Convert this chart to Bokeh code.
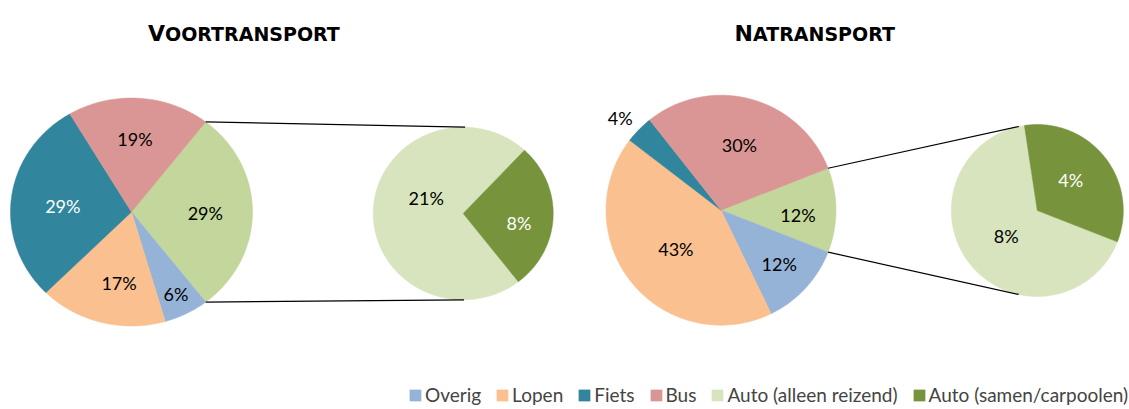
import numpy as np
from bokeh.plotting import figure
from bokeh.models import Range1d, Legend, LegendItem
from bokeh.embed import file_html
from bokeh.resources import INLINE
from bokeh.core.properties import value

# ---------------- data ----------------
categories = ["Overig", "Lopen", "Fiets", "Bus", "Auto (alleen reizend)", "Auto (samen/carpoolen)"]
colors = ["#95B3D7", "#FAC090", "#31859C", "#D99694", "#D7E4BD", "#77933C"]
combined_color = "#C3D69B"

titles = ["Voortransport", "Natransport"]

# primary pie values (%): Overig, Lopen, Fiets, Bus
voor_main = [6, 17, 29, 19]
na_main = [12, 43, 4, 30]
# secondary pie values (%): Auto alleen, Auto samen
voor_auto = [21, 8]
na_auto = [8, 4]

# ---------------- layout (screen px) ----------------
W, H = 1129, 409
charts = [
    dict(title=titles[0], main=voor_main, auto=voor_auto,
         pc=(131.0, 211.5), prx=121.0, pry=114.0,
         sc=(462.7, 213.0), srx=90.0, sry=86.3,
         title_split=164.5, title_y=33.3,
         main_frac=[0.81, 0.63, 0.57, 0.64], main_off=[0, 5, 1.8, 1],
         comb_frac=0.61, comb_off=-1.0,
         sec_frac=[0.45, 0.63], sec_off=[-21.5, -8.0]),
    dict(title=titles[1], main=na_main, auto=na_auto,
         pc=(720.5, 209.7), prx=115.0, pry=115.0,
         sc=(1036.8, 210.0), srx=86.0, sry=86.0,
         title_split=752.5, title_y=33.3,
         main_frac=[0.69, 0.52, 1.19, 0.585], main_off=[0, 1.8, 2.0, -0.7],
         comb_frac=0.67, comb_off=-3.4,
         sec_frac=[0.47, 0.53], sec_off=[1.2, 4.2]),
]

p = figure(width=W, height=H, output_backend="svg", toolbar_location=None,
           x_range=Range1d(0, W), y_range=Range1d(H, 0),
           x_axis_location=None, y_axis_location=None, min_border=0)
p.grid.visible = False
p.outline_line_color = None
p.background_fill_color = "white"


def wedge(cx, cy, rx, ry, a0, a1):
    n = max(8, int(abs(a1 - a0)))
    t = np.radians(np.linspace(a0, a1, n))
    xs = np.concatenate([[cx], cx + rx * np.cos(t)])
    ys = np.concatenate([[cy], cy - ry * np.sin(t)])
    return list(xs), list(ys)


def ell_pt(cx, cy, rx, ry, a, f=1.0):
    t = np.radians(a)
    return cx + f * rx * np.cos(t), cy - f * ry * np.sin(t)


cat_xs = {c: [] for c in categories}
cat_ys = {c: [] for c in categories}
comb_xs, comb_ys = [], []
lab_x, lab_y, lab_t, lab_c = [], [], [], []
seg = dict(x0=[], y0=[], x1=[], y1=[])

for ch in charts:
    main, auto = ch["main"], ch["auto"]
    total = float(sum(main) + sum(auto))
    half = 180.0 * sum(auto) / total
    cx, cy = ch["pc"]
    rx, ry = ch["prx"], ch["pry"]
    a = -half
    for i, v in enumerate(main):
        span = 360.0 * v / total
        xs, ys = wedge(cx, cy, rx, ry, a, a - span)
        cat_xs[categories[i]].append(xs)
        cat_ys[categories[i]].append(ys)
        mid = a - span / 2 + ch["main_off"][i]
        lx, ly = ell_pt(cx, cy, rx, ry, mid, ch["main_frac"][i])
        lab_x.append(lx); lab_y.append(ly); lab_t.append(f"{v}%")
        white = (categories[i] == "Fiets") and ch["main_frac"][i] < 1
        lab_c.append("white" if white else "black")
        a -= span
    # combined auto slice
    xs, ys = wedge(cx, cy, rx, ry, -half, half)
    comb_xs.append(xs); comb_ys.append(ys)
    lx, ly = ell_pt(cx, cy, rx, ry, ch["comb_off"], ch["comb_frac"])
    lab_x.append(lx); lab_y.append(ly); lab_t.append(f"{sum(auto)}%"); lab_c.append("black")

    # secondary pie: samen first (ccw from -half), then alleen
    scx, scy = ch["sc"]
    srx, sry = ch["srx"], ch["sry"]
    tot2 = float(sum(auto))
    a = -half
    for j in [1, 0]:
        v = auto[j]
        span = 360.0 * v / tot2
        xs, ys = wedge(scx, scy, srx, sry, a, a + span)
        cat_xs[categories[4 + j]].append(xs)
        cat_ys[categories[4 + j]].append(ys)
        mid = a + span / 2 + ch["sec_off"][j]
        lx, ly = ell_pt(scx, scy, srx, sry, mid, ch["sec_frac"][j])
        lab_x.append(lx); lab_y.append(ly); lab_t.append(f"{v}%")
        lab_c.append("white" if j == 1 else "black")
        a += span

    # connector lines: tangent from primary edge points to secondary ellipse
    for sgn in (1, -1):
        px, py = ell_pt(cx, cy, rx, ry, sgn * half)
        ux = (px - scx) / srx
        uy = -(py - scy) / sry
        d = np.hypot(ux, uy)
        th = np.degrees(np.arctan2(uy, ux)) % 360
        tt = th - sgn * np.degrees(np.arccos(1.0 / d))
        qx, qy = ell_pt(scx, scy, srx, sry, tt)
        seg["x0"].append(px); seg["y0"].append(py)
        seg["x1"].append(qx); seg["y1"].append(qy)

    # title with small caps look
    t = ch["title"]
    p.text(x=[ch["title_split"]], y=[ch["title_y"]], text=[t[0].upper()],
           text_font=value("DejaVu Sans"), text_font_style="bold",
           text_font_size="22px", text_align="right", text_baseline="alphabetic",
           text_color="black")
    p.text(x=[ch["title_split"]], y=[ch["title_y"]], text=[t[1:].upper()],
           text_font=value("DejaVu Sans"), text_font_style="bold",
           text_font_size="19px", text_align="left", text_baseline="alphabetic",
           text_color="black")

p.patches(comb_xs, comb_ys, fill_color=combined_color, line_color=combined_color, line_width=0.5)

items = []
for c, col in zip(categories, colors):
    r = p.patches(cat_xs[c], cat_ys[c], fill_color=col, line_color=col, line_width=0.5)
    items.append(LegendItem(label=c, renderers=[r]))

p.segment(x0=seg["x0"], y0=seg["y0"], x1=seg["x1"], y1=seg["y1"],
          line_color="black", line_width=1.2)

p.text(x=lab_x, y=lab_y, text=lab_t, text_color=lab_c,
       text_font=value("Lato"), text_font_size="18px",
       text_align="center", text_baseline="middle")

legend = Legend(items=items, orientation="horizontal", location=(408, 3),
                glyph_width=14, glyph_height=14, label_standoff=3, spacing=14,
                padding=0, margin=0, border_line_alpha=0, background_fill_alpha=0,
                label_text_font="Lato", label_text_font_size="19px",
                label_height=14)
p.add_layout(legend, "center")

open("out.html", "w").write(file_html(p, INLINE))
